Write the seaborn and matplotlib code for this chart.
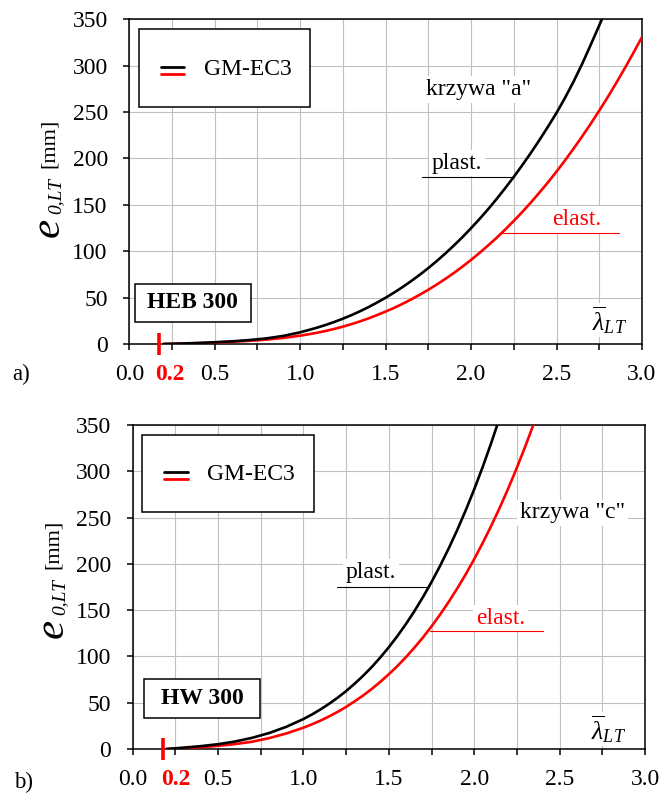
import matplotlib
matplotlib.use("Agg")
import matplotlib.pyplot as plt
import seaborn as sns
from matplotlib.patches import Rectangle
from matplotlib.ticker import FixedLocator, FuncFormatter

W, H = 661, 796

# --- dane (lambda_LT, e0_LT [mm]) -----------------------------------------
# a) HEB 300, krzywa "a"
LAM_A_PLAST = [0.2, 0.3, 0.4, 0.5, 0.6, 0.7, 0.8, 0.9,
               1.0, 1.05, 1.1, 1.15, 1.2, 1.25, 1.3, 1.35, 1.4, 1.45,
               1.5, 1.55, 1.6, 1.65, 1.7, 1.75, 1.8, 1.85, 1.9, 1.95,
               2.0, 2.05, 2.1, 2.15, 2.2, 2.25, 2.3, 2.35, 2.4, 2.45,
               2.5, 2.55, 2.6, 2.65, 2.7, 2.75, 2.8]
E0_A_PLAST = [0, 0.5, 1.1, 1.9, 2.9, 4.2, 6.0, 8.7,
              12.6, 15.1, 17.7, 20.6, 23.8, 27.3, 31.1, 35.3, 39.8, 44.7,
              49.9, 55.5, 61.5, 67.9, 74.7, 81.9, 89.6, 97.7, 106.3, 115.3,
              124.9, 134.9, 145.4, 156.5, 168.1, 180.2, 192.9, 206.1, 219.9, 234.3,
              249.2, 265.5, 283, 302, 322.5, 343.5, 365]

LAM_A_ELAST = [0.2, 0.3, 0.4, 0.5, 0.6, 0.7, 0.8, 0.9,
               1.0, 1.05, 1.1, 1.15, 1.2, 1.25, 1.3, 1.35, 1.4, 1.45,
               1.5, 1.55, 1.6, 1.65, 1.7, 1.75, 1.8, 1.85, 1.9, 1.95,
               2.0, 2.05, 2.1, 2.15, 2.2, 2.25, 2.3, 2.35, 2.4, 2.45,
               2.5, 2.55, 2.6, 2.65, 2.7, 2.75, 2.8, 2.85, 2.9, 2.95, 3.0]
E0_A_ELAST = [0, 0.4, 0.9, 1.6, 2.4, 3.4, 4.7, 6.5,
              9.0, 10.5, 12.2, 14.1, 16.3, 18.7, 21.4, 24.4, 27.6, 31.2,
              35.0, 39.0, 43.4, 48.1, 53.2, 58.5, 64.2, 70.3, 76.7, 83.5,
              90.7, 98.3, 106.3, 114.6, 123.5, 132.7, 142.4, 152.6, 163.3, 174.3,
              185.9, 198.0, 210.7, 223.8, 237.4, 251.6, 266.3, 281.6, 297.5, 313.9, 330.9]

# b) HW 300, krzywa "c"
LAM_C_PLAST = [0.2, 0.3, 0.4, 0.5, 0.6, 0.7, 0.8, 0.9,
               1.0, 1.05, 1.1, 1.15, 1.2, 1.25, 1.3, 1.35, 1.4, 1.45,
               1.5, 1.55, 1.6, 1.65, 1.7, 1.75, 1.8, 1.85, 1.9, 1.95,
               2.0, 2.05, 2.1, 2.15, 2.2]
E0_C_PLAST = [0, 1.5, 3.1, 5.2, 8.1, 12.1, 17.3, 24.0,
              32.4, 37.3, 42.8, 48.8, 55.4, 62.6, 70.6, 79.2, 88.6, 98.9,
              110.0, 122.0, 135.0, 149.0, 164.2, 180.4, 197.8, 216.5, 236.4, 257.8,
              280.6, 304.9, 330.9, 358.4, 387.6]

LAM_C_ELAST = [0.2, 0.3, 0.4, 0.5, 0.6, 0.7, 0.8, 0.9,
               1.0, 1.05, 1.1, 1.15, 1.2, 1.25, 1.3, 1.35, 1.4, 1.45,
               1.5, 1.55, 1.6, 1.65, 1.7, 1.75, 1.8, 1.85, 1.9, 1.95,
               2.0, 2.05, 2.1, 2.15, 2.2, 2.25, 2.3, 2.35, 2.4]
E0_C_ELAST = [0, 0.9, 1.9, 3.4, 5.3, 7.9, 11.8, 16.8,
              23.0, 26.7, 30.7, 35.2, 40.1, 45.5, 51.5, 57.9, 64.9, 72.5,
              80.8, 89.6, 99.2, 109.6, 120.6, 132.5, 145.2, 158.8, 173.3, 188.7,
              205.2, 222.7, 241.3, 260.9, 281.8, 304.0, 327.4, 352.1, 378.2]

X_TICKS = [0.0, 0.25, 0.5, 0.75, 1.0, 1.25, 1.5, 1.75, 2.0, 2.25, 2.5, 2.75, 3.0]
Y_TICKS = [0, 50, 100, 150, 200, 250, 300, 350]

RED = "#ff0000"
GRID = "#c0c0c0"
FS = 17

sns.set_theme(style="ticks", rc={
    "axes.edgecolor": "black", "text.color": "black", "axes.labelcolor": "black",
    "xtick.color": "black", "ytick.color": "black",
})
plt.rcParams["font.family"] = ["Liberation Serif", "DejaVu Serif"]
plt.rcParams["mathtext.fontset"] = "custom"
plt.rcParams["mathtext.rm"] = "Liberation Serif"
plt.rcParams["mathtext.it"] = "Liberation Serif:italic"
plt.rcParams["mathtext.bf"] = "Liberation Serif:bold"


def px_rect(l, t, r, b):
    return [l / W, 1 - b / H, (r - l) / W, (b - t) / H]


def fig_txt(fig, x, y, s, **kw):
    # tekst pionowy, (x, y) = poczatek linii bazowej w pikselach
    fig.text(x / W, 1 - y / H, s, rotation=90, rotation_mode="anchor",
             ha="left", va="baseline", **kw)


def panel(ax, plast, elast, profil, box_prof, krzywa, pl, el, lam_xy, tick02):
    ax.set_xlim(0, 3)
    ax.set_ylim(0, 350)
    ax.set_axisbelow(True)
    ax.grid(True, color=GRID, lw=0.8)

    sns.lineplot(x=elast[0], y=elast[1], color=RED, lw=1.9, ax=ax, zorder=3)
    sns.lineplot(x=plast[0], y=plast[1], color="black", lw=1.9, ax=ax, zorder=3)

    ax.xaxis.set_major_locator(FixedLocator(X_TICKS))
    ax.yaxis.set_major_locator(FixedLocator(Y_TICKS))
    ax.xaxis.set_major_formatter(FuncFormatter(
        lambda v, p: f"{v:.1f}" if abs(v * 2 - round(v * 2)) < 1e-6 else ""))
    ax.tick_params(axis="both", direction="out", length=4.5, width=1.1,
                   labelsize=FS)
    ax.tick_params(axis="x", pad=10)
    ax.tick_params(axis="y", pad=11)
    for s in ax.spines.values():
        s.set_linewidth(1.1)
        s.set_color("black")
    ax.set_xlabel("")
    ax.set_ylabel("")

    # czerwone 0.2
    ax.plot([tick02[0]], [0], marker="|", ms=16, mew=2.6, color=RED,
            clip_on=False, zorder=6)
    ax.annotate("0.2", xy=(tick02[1], 0), xycoords=("data", "axes fraction"),
                xytext=(0, -14.5), textcoords="offset points", ha="center",
                va="top", fontsize=FS, fontweight="bold", color=RED)

    # legenda
    ax.add_patch(Rectangle((0.019, 0.731), 0.334, 0.238, transform=ax.transAxes,
                           facecolor="white", edgecolor="black", lw=1.1, zorder=5))
    ax.plot([0.062, 0.107], [0.854, 0.854], transform=ax.transAxes,
            color="black", lw=2.0, zorder=6)
    ax.plot([0.062, 0.107], [0.832, 0.832], transform=ax.transAxes,
            color=RED, lw=2.0, zorder=6)
    ax.text(0.146, 0.846, "GM-EC3", transform=ax.transAxes, fontsize=FS,
            ha="left", va="center", zorder=6)

    # profil
    x0, y0, x1, y1 = box_prof
    ax.add_patch(Rectangle((x0, y0), x1 - x0, y1 - y0, transform=ax.transAxes,
                           facecolor="white", edgecolor="black", lw=1.1, zorder=5))
    ax.text((x0 + x1) / 2, (y0 + y1) / 2, profil, transform=ax.transAxes,
            fontsize=FS, fontweight="bold", ha="center", va="center", zorder=6)

    wb = dict(facecolor="white", edgecolor="none", pad=2)
    ax.text(krzywa[0], krzywa[1], krzywa[2], fontsize=FS, ha="center",
            va="center", bbox=wb, zorder=4)

    ax.text(pl[0], pl[1], "plast.", fontsize=FS, ha="center", va="center",
            bbox=wb, zorder=4)
    ax.plot([pl[2], pl[3]], [pl[4], pl[4]], color="black", lw=0.8, zorder=4)
    ax.text(el[0], el[1], "elast.", fontsize=FS, ha="center", va="center",
            color=RED, bbox=wb, zorder=4)
    ax.plot([el[2], el[3]], [el[4], el[4]], color=RED, lw=0.8, zorder=4)

    ax.text(lam_xy[0], lam_xy[1], r"$\overline{\lambda}_{LT}$",
            transform=ax.transAxes, fontsize=18.5, ha="center", va="center",
            bbox=dict(facecolor="white", edgecolor="none", pad=1), zorder=4)


fig = plt.figure(figsize=(W / 100, H / 100), dpi=100)
ax1 = fig.add_axes(px_rect(129.3, 19.3, 642, 344))
ax2 = fig.add_axes(px_rect(132.7, 425, 645, 749))

panel(ax1, (LAM_A_PLAST, E0_A_PLAST), (LAM_A_ELAST, E0_A_ELAST), "HEB 300",
      (0.011, 0.069, 0.237, 0.185), (2.045, 274, 'krzywa "a"'),
      (1.915, 195, 1.713, 2.25, 180.3), (2.616, 134, 2.176, 2.866, 119.3),
      (0.936, 0.074), (0.176, 0.239))
panel(ax2, (LAM_C_PLAST, E0_C_PLAST), (LAM_C_ELAST, E0_C_ELAST), "HW 300",
      (0.023, 0.097, 0.2485, 0.215), (2.575, 255, 'krzywa "c"'),
      (1.395, 190.5, 1.194, 1.733, 174.7), (2.152, 141, 1.739, 2.404, 127.8),
      (0.929, 0.062), (0.179, 0.25))

# os y: e_{0,LT}  [mm]
for dy, dx in ((0, 0), (401, 4)):
    fig_txt(fig, 59 + dx, 237 + dy, "e", fontsize=31, style="italic")
    fig_txt(fig, 60 + dx, 214 + dy, "0,LT", fontsize=14, style="italic")
    fig_txt(fig, 54 + dx, 168 + dy, "[mm]", fontsize=16)

fig.text(21 / W, 1 - 374 / H, "a)", fontsize=16.5, ha="center", va="center")
fig.text(24 / W, 1 - 782 / H, "b)", fontsize=16.5, ha="center", va="center")

fig.savefig("out.png", dpi=100)
